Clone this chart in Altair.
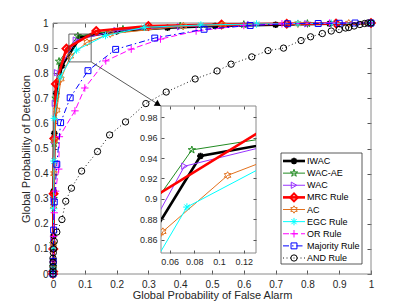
import math
import altair as alt
import pandas as pd

# ---------------- data ----------------
legend_labels = ["IWAC", "WAC-AE", "WAC", "MRC Rule", "\u00a0AC", "\u00a0EGC Rule",
                 "OR Rule", "Majority Rule", "AND Rule"]

iwac_pfa = [0, 0.0005, 0.001, 0.002, 0.004, 0.01, 0.028, 0.085, 0.2, 0.36, 0.51, 0.7, 0.87, 1.0]
iwac_pd = [0, 0.02, 0.15, 0.33, 0.56, 0.72, 0.83, 0.942, 0.967, 0.981, 0.988, 0.993, 0.997, 1.0]

wacae_pfa = [0, 0.0005, 0.001, 0.002, 0.004, 0.008, 0.019, 0.078, 0.22, 0.4, 0.6, 0.8, 1.0]
wacae_pd = [0, 0.03, 0.12, 0.3, 0.52, 0.7, 0.847, 0.948, 0.975, 0.988, 0.994, 0.998, 1.0]

wac_pfa = [0, 0.0005, 0.001, 0.002, 0.004, 0.006, 0.013, 0.072, 0.2, 0.4, 0.62, 0.8, 1.0]
wac_pd = [0, 0.02, 0.13, 0.3, 0.53, 0.68, 0.802, 0.932, 0.97, 0.985, 0.994, 0.997, 1.0]

mrc_pfa = [0, 0.0005, 0.001, 0.002, 0.004, 0.009, 0.042, 0.136, 0.3, 0.53, 0.735, 0.89, 1.0]
mrc_pd = [0, 0.01, 0.1, 0.32, 0.54, 0.757, 0.898, 0.968, 0.988, 0.994, 0.997, 0.998, 1.0]

ac_pfa = [0, 0.0005, 0.001, 0.002, 0.003, 0.005, 0.012, 0.025, 0.0545, 0.107, 0.18, 0.41, 0.535, 0.77, 0.93, 1.0]
ac_pd = [0, 0.02, 0.12, 0.27, 0.4, 0.53, 0.653, 0.777, 0.868, 0.923, 0.957, 0.988, 0.992, 0.997, 0.999, 1.0]

egc_pfa = [0, 0.0005, 0.001, 0.002, 0.003, 0.004, 0.022, 0.074, 0.165, 0.287, 0.465, 0.64, 0.77, 0.875, 1.0]
egc_pd = [0, 0.02, 0.1, 0.26, 0.45, 0.62, 0.785, 0.892, 0.95, 0.983, 0.992, 0.996, 0.998, 0.999, 1.0]

or_pfa = [0, 0.001, 0.002, 0.004, 0.008, 0.018, 0.02, 0.069, 0.1, 0.166, 0.246, 0.338, 0.45, 0.6, 0.72, 0.87, 1.0]
or_pd = [0, 0.05, 0.15, 0.244, 0.33, 0.418, 0.547, 0.65, 0.741, 0.849, 0.896, 0.936, 0.968, 0.99, 0.997, 1.0, 1.0]

maj_pfa = [0, 0.001, 0.002, 0.004, 0.012, 0.024, 0.054, 0.11, 0.197, 0.32, 0.475, 0.62, 0.738, 0.834, 0.9, 0.95, 1.0]
maj_pd = [0, 0.05, 0.175, 0.287, 0.437, 0.603, 0.702, 0.81, 0.895, 0.94, 0.975, 0.99, 0.997, 0.998, 0.999, 1.0, 1.0]

and_pfa = [0, 0, 0, 0, 0, 0.001, 0.002, 0.004, 0.012, 0.028, 0.04, 0.058, 0.09, 0.14, 0.178, 0.228,
           0.292, 0.356, 0.447, 0.516, 0.56, 0.625, 0.676, 0.725, 0.78, 0.81, 0.847, 0.875, 0.9,
           0.92, 0.93, 0.947, 0.965, 0.98, 0.99, 1.0]
and_pd = [0, 0.012, 0.03, 0.047, 0.063, 0.085, 0.1, 0.13, 0.167, 0.217, 0.29, 0.342, 0.41, 0.488,
          0.554, 0.606, 0.679, 0.725, 0.777, 0.809, 0.836, 0.865, 0.89, 0.9, 0.93, 0.945, 0.958,
          0.968, 0.974, 0.98, 0.982, 0.988, 0.994, 0.998, 1.0, 1.0]

main_ticks = [0, 0.1, 0.2, 0.3, 0.4, 0.5, 0.6, 0.7, 0.8, 0.9, 1]
inset_x_ticks = [0.06, 0.08, 0.1, 0.12]
inset_y_ticks = [0.86, 0.88, 0.9, 0.92, 0.94, 0.96, 0.98]
inset_x_domain = [0.053, 0.13]
inset_y_domain = [0.847, 0.991]
zoom_box = [0.05, 0.12, 0.845, 0.956]      # x0, x1, y0, y1 in main axes units
arrow_from = [0.12, 0.845]
arrow_to = [0.3396, 0.669]
arrow_head = [0.3307, 0.676]

# ---------------- marker shapes ----------------
def star_path(n, r_in):
    pts = []
    for k in range(2 * n):
        a = math.radians(-90 + k * 180.0 / n)
        r = 1.0 if k % 2 == 0 else r_in
        pts.append(f"{r * math.cos(a):.3f},{r * math.sin(a):.3f}")
    return "M" + "L".join(pts) + "Z"

PENTA = star_path(5, 0.382)
HEXA = star_path(6, 0.577)
ASTER = "M0,-1L0,1M-1,0L1,0M-0.7,-0.7L0.7,0.7M-0.7,0.7L0.7,-0.7"
PLUS = "M0,-1L0,1M-1,0L1,0"

series = [
    (iwac_pfa, iwac_pd, dict(color="#000000", width=2.6, dash=None, shape=ASTER, size=45, mw=1.8)),
    (wacae_pfa, wacae_pd, dict(color="#228B22", width=1, dash=None, shape=PENTA, size=60, mw=1)),
    (wac_pfa, wac_pd, dict(color="#9933FF", width=1, dash=None, shape="triangle-right", size=40, mw=1)),
    (mrc_pfa, mrc_pd, dict(color="#FF0000", width=2.6, dash=None, shape="diamond", size=60, mw=2)),
    (ac_pfa, ac_pd, dict(color="#E2711D", width=1, dash=None, shape=HEXA, size=55, mw=1)),
    (egc_pfa, egc_pd, dict(color="#00FFFF", width=1, dash=None, shape=ASTER, size=55, mw=1)),
    (or_pfa, or_pd, dict(color="#FF00FF", width=1, dash=[6, 3], shape=PLUS, size=55, mw=1)),
    (maj_pfa, maj_pd, dict(color="#0000FF", width=1, dash=[6, 3, 1.5, 3], shape="square", size=35, mw=1)),
    (and_pfa, and_pd, dict(color="#000000", width=0.9, dash=[1, 2.5], shape="circle", size=40, mw=1)),
]

FONT = "Liberation Sans"
TXT = "#262626"
FRAME = "#8a8a8a"

# View = inset box (page 161..256 x 106..253); main axes placed through pixel ranges
W, H = 95, 147
MX = dict(domain=[0, 1], range=[-108, 210], nice=False, zero=False)
MY = dict(domain=[0, 1], range=[168, -83], nice=False, zero=False)
IX = dict(domain=inset_x_domain, range=[0, W], nice=False, zero=False)
IY = dict(domain=inset_y_domain, range=[H, 0], nice=False, zero=False)

ax_b = alt.Axis(orient="bottom", values=main_ticks, format="~g", offset=17, tickSize=4,
                domain=False, grid=False, labelPadding=5, labelFlush=False, labelFontSize=10,
                title="Global Probability of False Alarm", titleFontSize=11, titlePadding=0)
ax_l = alt.Axis(orient="left", values=main_ticks, format="~g", offset=104, tickSize=4,
                domain=False, grid=False, labelPadding=5, labelFontSize=10,
                title="Global Probability of Detection", titleFontSize=11,
                titleX=-26, titleY=42.5)
ax_t = alt.Axis(orient="top", values=main_ticks, labels=False, offset=79, tickSize=4,
                domain=False, grid=False, title="")
ax_r = alt.Axis(orient="right", values=main_ticks, labels=False, offset=111, tickSize=4,
                domain=False, grid=False, title="")
iax_b = alt.Axis(orient="bottom", values=inset_x_ticks, format="~g", offset=-3, tickSize=3,
                 domain=False, grid=False, labelPadding=4, labelFlush=False, labelFontSize=9,
                 title="", zindex=2)
iax_l = alt.Axis(orient="left", values=inset_y_ticks, format="~g", offset=-3, tickSize=3,
                 domain=False, grid=False, labelPadding=4, labelFontSize=9, title="", zindex=2)
iax_t = alt.Axis(orient="top", values=inset_x_ticks, labels=False, offset=-3, tickSize=3,
                 domain=False, grid=False, title="", zindex=2)
iax_r = alt.Axis(orient="right", values=inset_y_ticks, labels=False, offset=-3, tickSize=3,
                 domain=False, grid=False, title="", zindex=2)


def curve_layers(xs, ys, st, sx, sy, axx, axy, clip):
    df = pd.DataFrame({"x": xs, "y": ys, "i": list(range(len(xs)))})
    lk = dict(color=st["color"], strokeWidth=st["width"])
    if st["dash"]:
        lk["strokeDash"] = st["dash"]
    pk = dict(shape=st["shape"], filled=False, color=st["color"], size=st["size"],
              strokeWidth=st["mw"], opacity=1)
    if clip:
        lk["clip"] = True
        pk["clip"] = True
    enc = dict(x=alt.X("x:Q", scale=alt.Scale(**sx), axis=axx),
               y=alt.Y("y:Q", scale=alt.Scale(**sy), axis=axy))
    line = alt.Chart(df).mark_line(**lk).encode(order="i:Q", **enc)
    pts = alt.Chart(df).mark_point(**pk).encode(**enc)
    return [line, pts]


# ---- main axes ----
main_layers = []
frame_df = pd.DataFrame({"x": [0], "x2": [1], "y": [0], "y2": [1]})
main_layers.append(
    alt.Chart(frame_df).mark_rect(fillOpacity=0, stroke=FRAME, strokeWidth=1).encode(
        x=alt.X("x:Q", scale=alt.Scale(**MX), axis=ax_b), x2="x2:Q",
        y=alt.Y("y:Q", scale=alt.Scale(**MY), axis=ax_l), y2="y2:Q"))
for xs, ys, st in series:
    main_layers += curve_layers(xs, ys, st, MX, MY, ax_b, ax_l, False)
box_df = pd.DataFrame({"x": [zoom_box[0]], "x2": [zoom_box[1]], "y": [zoom_box[2]], "y2": [zoom_box[3]]})
main_layers.append(
    alt.Chart(box_df).mark_rect(fillOpacity=0, stroke="#404040", strokeWidth=0.8).encode(
        x=alt.X("x:Q", scale=alt.Scale(**MX), axis=ax_b), x2="x2:Q",
        y=alt.Y("y:Q", scale=alt.Scale(**MY), axis=ax_l), y2="y2:Q"))
arr_df = pd.DataFrame({"x": [arrow_from[0]], "x2": [arrow_to[0]], "y": [arrow_from[1]], "y2": [arrow_to[1]]})
main_layers.append(
    alt.Chart(arr_df).mark_rule(color="#303030", strokeWidth=0.8).encode(
        x=alt.X("x:Q", scale=alt.Scale(**MX), axis=ax_b), x2="x2:Q",
        y=alt.Y("y:Q", scale=alt.Scale(**MY), axis=ax_l), y2="y2:Q"))
head_df = pd.DataFrame({"x": [arrow_head[0]], "y": [arrow_head[1]]})
main_layers.append(
    alt.Chart(head_df).mark_point(shape="triangle-right", filled=True, color="#000000",
                                  size=50, angle=32, opacity=1).encode(
        x=alt.X("x:Q", scale=alt.Scale(**MX), axis=ax_b),
        y=alt.Y("y:Q", scale=alt.Scale(**MY), axis=ax_l)))
main = alt.layer(*main_layers)

tick_df = pd.DataFrame({"t": main_ticks})
main_frame = alt.Chart(tick_df).mark_point(opacity=0).encode(
    x=alt.X("t:Q", scale=alt.Scale(**MX), axis=ax_t),
    y=alt.Y("t:Q", scale=alt.Scale(**MY), axis=ax_r))

# ---- inset ----
one = pd.DataFrame({"k": [0]})
inset_layers = [
    alt.Chart(one).mark_rect(fill="white", stroke=FRAME, strokeWidth=1).encode(
        x=alt.value(0), x2=alt.value(W), y=alt.value(0), y2=alt.value(H))]
for xs, ys, st in series:
    inset_layers += curve_layers(xs, ys, st, IX, IY, iax_b, iax_l, True)
inset = alt.layer(*inset_layers)

itick_df = pd.DataFrame({"tx": inset_x_ticks + [inset_x_ticks[-1]] * 3, "ty": inset_y_ticks})
inset_frame = alt.Chart(itick_df).mark_point(opacity=0).encode(
    x=alt.X("tx:Q", scale=alt.Scale(**IX), axis=iax_t),
    y=alt.Y("ty:Q", scale=alt.Scale(**IY), axis=iax_r))

# ---- legend ----
LY = dict(domain=[0, 8], range=[55, 152], nice=False, zero=False)
leg_df = pd.DataFrame({"row": list(range(len(legend_labels))), "label": legend_labels})
legend_layers = [
    alt.Chart(one).mark_rect(fill="white", stroke="#303030", strokeWidth=0.8).encode(
        x=alt.value(120), x2=alt.value(201), y=alt.value(47), y2=alt.value(158))]
for i, (_, _, st) in enumerate(series):
    sub = leg_df[leg_df.row == i]
    lk = dict(color=st["color"], strokeWidth=st["width"])
    if st["dash"]:
        lk["strokeDash"] = st["dash"]
    legend_layers.append(alt.Chart(sub).mark_rule(**lk).encode(
        x=alt.value(122), x2=alt.value(144),
        y=alt.Y("row:Q", scale=alt.Scale(**LY), axis=None)))
    legend_layers.append(alt.Chart(sub).mark_point(
        shape=st["shape"], filled=False, color=st["color"], size=st["size"],
        strokeWidth=st["mw"], opacity=1).encode(
        x=alt.value(133), y=alt.Y("row:Q", scale=alt.Scale(**LY), axis=None)))
legend_layers.append(alt.Chart(leg_df).mark_text(
    align="left", baseline="middle", fontSize=9, font=FONT, color="#000000").encode(
    x=alt.value(146), y=alt.Y("row:Q", scale=alt.Scale(**LY), axis=None), text="label:N"))
legend = alt.layer(*legend_layers)

chart = alt.layer(main, main_frame, inset, inset_frame, legend).resolve_scale(
    x="independent", y="independent").resolve_axis(x="independent", y="independent").properties(
    width=W, height=H,
    autosize=alt.AutoSizeParams(type="none"),
    padding={"left": 153, "top": 98, "right": 135, "bottom": 53},
).configure_view(stroke=None).configure_axis(
    labelFont=FONT, titleFont=FONT, labelColor=TXT, titleColor=TXT, tickColor="#555555",
    titleFontWeight="normal", grid=False)

chart.save("out.html", embed_options={"renderer": "svg", "actions": False})
